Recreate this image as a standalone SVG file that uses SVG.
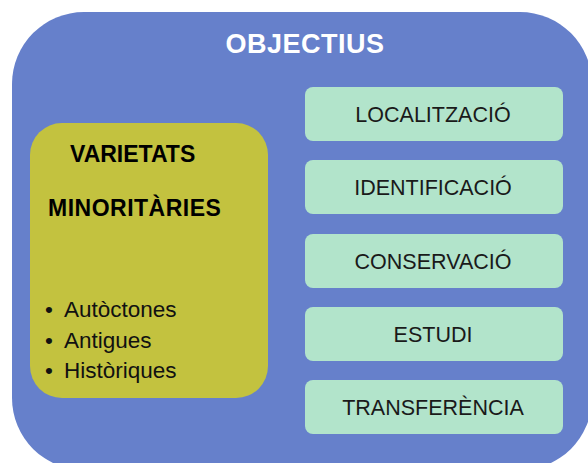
<svg xmlns="http://www.w3.org/2000/svg" width="588" height="463" viewBox="0 0 588 463">
<style>
.box{fill:#B2E4CB}
.lbl{font-family:"Liberation Sans",Arial,sans-serif;font-size:21.5px;fill:#1a1a1a;text-anchor:middle}
.bul{font-family:"Liberation Sans",Arial,sans-serif;font-size:22.5px;fill:#111}
.hd{font-family:"Liberation Sans",Arial,sans-serif;font-size:23px;font-weight:bold;fill:#000}
</style>
<rect width="588" height="463" fill="#fff"/>
<g id="objectius">
<rect x="12" y="12" width="580" height="458" rx="72" fill="#6680CB"/>
<text x="305" y="53" text-anchor="middle" font-family="Liberation Sans,Arial,sans-serif" font-size="27" font-weight="bold" fill="#fff" letter-spacing="0.5">OBJECTIUS</text>
</g>
<g id="varietats">
<rect x="30" y="123" width="238" height="275" rx="32" fill="#C3C23F"/>
<text class="hd" x="70" y="162">VARIETATS</text>
<text class="hd" x="48" y="216" letter-spacing="0.5">MINORITÀRIES</text>
<text class="bul" x="45" y="317">•</text><text class="bul" x="64" y="317">Autòctones</text>
<text class="bul" x="45" y="348">•</text><text class="bul" x="64" y="348">Antigues</text>
<text class="bul" x="45" y="378">•</text><text class="bul" x="64" y="378">Històriques</text>
</g>
<g id="localitzacio"><rect class="box" x="305" y="87" width="258" height="54" rx="8"/><text class="lbl" x="433" y="122">LOCALITZACIÓ</text></g>
<g id="identificacio"><rect class="box" x="305" y="160" width="258" height="54" rx="8"/><text class="lbl" x="433" y="195">IDENTIFICACIÓ</text></g>
<g id="conservacio"><rect class="box" x="305" y="234" width="258" height="54" rx="8"/><text class="lbl" x="433" y="269">CONSERVACIÓ</text></g>
<g id="estudi"><rect class="box" x="305" y="307" width="258" height="54" rx="8"/><text class="lbl" x="433" y="342">ESTUDI</text></g>
<g id="transferencia"><rect class="box" x="305" y="380" width="258" height="54" rx="8"/><text class="lbl" x="433" y="415">TRANSFERÈNCIA</text></g>
<g id="connectors"/>
</svg>
